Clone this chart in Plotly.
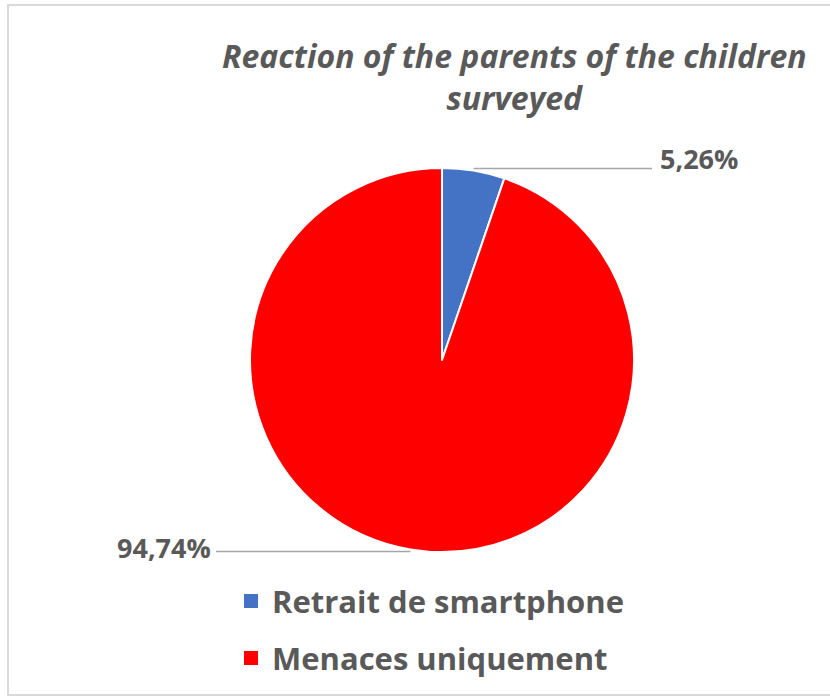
import math
import plotly.graph_objects as go

# Data
categories = ["Retrait de smartphone", "Menaces uniquement"]
shares = [5.26, 94.74]
colors = ["#4472C4", "#FF0000"]
value_labels = ["5,26%", "94,74%"]

W, H = 830, 699
cx, cy, r = 442, 360, 192  # pie centre and radius in pixels

def px_x(x):
    return x / W

def px_y(y):
    return 1 - y / H

fig = go.Figure(
    go.Pie(
        labels=categories,
        values=shares,
        marker=dict(colors=colors, line=dict(color="white", width=2)),
        sort=False,
        direction="clockwise",
        rotation=0,
        textinfo="none",
        hoverinfo="label+percent",
        showlegend=False,
        domain=dict(x=[px_x(cx - r), px_x(cx + r)], y=[px_y(cy + r), px_y(cy - r)]),
    )
)

shapes = []
annotations = []

# Leader lines and value labels, placed from each slice's mid-angle
total = sum(shares)
cum = 0.0
label_x = {0: (652, 658, "left"), 1: (216, 213, "right")}
for i, v in enumerate(shares):
    mid = (cum + v / 2) / total * 2 * math.pi
    cum += v
    ex = cx + r * math.sin(mid)
    ey = cy - r * math.cos(mid)
    ly = ey - 2 if i == 0 else ey + 2
    line_end, text_x, anchor = label_x[i]
    shapes.append(dict(type="line", xref="paper", yref="paper",
                       x0=px_x(ex), y0=px_y(ly), x1=px_x(line_end), y1=px_y(ly),
                       line=dict(color="#A6A6A6", width=1.5)))
    annotations.append(dict(xref="paper", yref="paper", x=px_x(text_x),
                            y=px_y(ly - 10 if i == 0 else ly - 4),
                            text=value_labels[i], showarrow=False,
                            xanchor=anchor, yanchor="middle",
                            font=dict(family="Open Sans", size=27, color="#595959", weight="bold")))

# Legend built from the category list
legend_rows = [601, 658]
for i, name in enumerate(categories):
    yc = legend_rows[i]
    shapes.append(dict(type="rect", xref="paper", yref="paper",
                       x0=px_x(244), x1=px_x(258), y0=px_y(yc + 7), y1=px_y(yc - 7),
                       fillcolor=colors[i], line=dict(width=0)))
    annotations.append(dict(xref="paper", yref="paper", x=px_x(270), y=px_y(yc),
                            text=name, showarrow=False, xanchor="left", yanchor="middle",
                            font=dict(family="Open Sans", size=31, color="#595959", weight="bold")))

# Outer frame
shapes.append(dict(type="rect", xref="paper", yref="paper",
                   x0=px_x(8), x1=px_x(836), y0=px_y(695), y1=px_y(5),
                   line=dict(color="#D9D9D9", width=2)))

# Title
annotations.append(dict(xref="paper", yref="paper", x=px_x(514), y=px_y(77),
                        text="Reaction of the parents of the children<br>surveyed",
                        showarrow=False, xanchor="center", yanchor="middle",
                        font=dict(family="Open Sans", size=32, color="#595959",
                                  style="italic", weight="bold")))

fig.update_layout(
    width=W, height=H,
    margin=dict(l=0, r=0, t=0, b=0),
    paper_bgcolor="white",
    plot_bgcolor="white",
    shapes=shapes,
    annotations=annotations,
)

fig.write_html("out.html")
